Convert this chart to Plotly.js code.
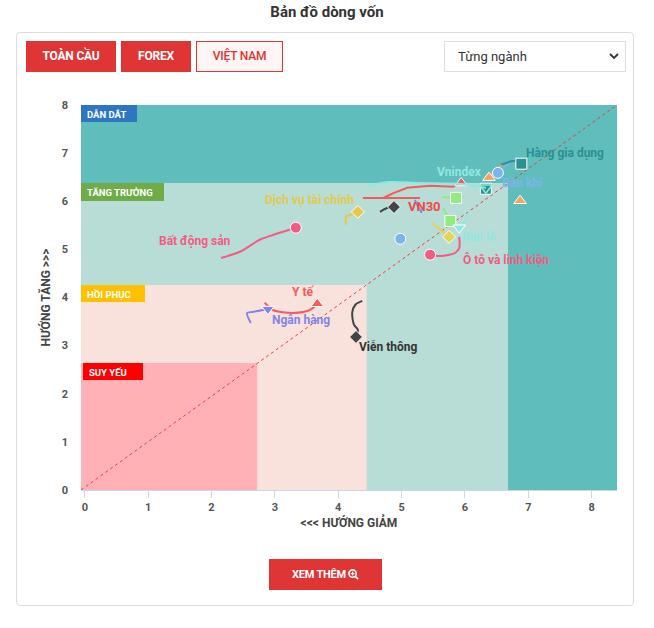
<!DOCTYPE html>
<html>
<head>
<meta charset="utf-8">
<script src="https://cdn.plot.ly/plotly-3.0.1.min.js"></script>
<style>
  body{margin:0;width:654px;height:628px;background:#fff;font-family:Roboto,"Noto Sans",Arial,sans-serif;position:relative;overflow:hidden}
  #title{position:absolute;top:3px;left:0;width:654px;text-align:center;font-weight:700;font-size:15px;line-height:18px;color:#333}
  #card{position:absolute;left:16px;top:32px;width:618px;height:574px;border:1px solid #dcdcdc;border-radius:4px;box-sizing:border-box}
  .btn{position:absolute;top:41px;height:31px;line-height:31px;text-align:center;font-weight:700;font-size:12px;color:#fff;background:#e03535;box-sizing:border-box;letter-spacing:-0.2px}
  #b1{left:26px;width:90px}
  #b2{left:121px;width:70px}
  #b3{left:196px;width:87px;background:#fdf6f4;border:1px solid #e03535;color:#e03535;font-weight:500;line-height:29px}
  #sel{position:absolute;left:444px;top:41px;width:182px;height:31px;border:1px solid #dedede;box-sizing:border-box;font-size:13px;color:#333;line-height:29px;padding-left:13px}
  #sel svg{position:absolute;right:6px;top:10px}
  #more{position:absolute;left:269px;top:559px;width:113px;height:31px;background:#e03535;color:#fff;font-weight:700;font-size:11px;line-height:31px;text-align:center;letter-spacing:-0.2px}
  #more svg{vertical-align:-2px;margin-left:2px}
  #chart{position:absolute;left:16px;top:90px;width:620px;height:455px}
</style>
</head>
<body>
<div id="title">Bản đồ dòng vốn</div>
<div id="card"></div>
<div class="btn" id="b1">TOÀN CẦU</div>
<div class="btn" id="b2">FOREX</div>
<div class="btn" id="b3">VIỆT NAM</div>
<div id="sel">Từng ngành<svg width="10" height="8" viewBox="0 0 10 8"><polyline points="1,2 5,6 9,2" fill="none" stroke="#333" stroke-width="1.8"/></svg></div>
<div id="chart"></div>
<div id="more">XEM THÊM<svg width="11" height="11" viewBox="0 0 12 12"><circle cx="5" cy="5" r="4" fill="none" stroke="#fff" stroke-width="1.8"/><line x1="8" y1="8" x2="11" y2="11" stroke="#fff" stroke-width="2"/><line x1="3" y1="5" x2="7" y2="5" stroke="#fff" stroke-width="1.4"/><line x1="5" y1="3" x2="5" y2="7" stroke="#fff" stroke-width="1.4"/></svg></div>
<script>
// ---- data ----
const tickVals = [0,1,2,3,4,5,6,7,8];
const xRange = [-0.06, 8.4];
const yRange = [0, 8];
const batDongSanX = [2.15,2.45,2.76,2.97,3.33], batDongSanY = [4.82,4.95,5.20,5.30,5.45];
const yTeX = [2.84,2.97,3.29,3.55,3.67], yTeY = [3.89,3.74,3.68,3.74,3.87];
const nganHangX = [2.62,2.56,2.65,2.89], nganHangY = [3.47,3.68,3.70,3.76];
const vienThongX = [4.38,4.27,4.22,4.25,4.31,4.28], vienThongY = [3.93,3.85,3.68,3.43,3.33,3.18];
const dichVuTCX = [4.12,4.12,4.23,4.31], dichVuTCY = [5.51,5.68,5.74,5.78];
const xamX = [4.66,4.77,4.88], xamY = [5.78,5.86,5.88];
const xanhDuongX = [4.98], xanhDuongY = [5.22];
const otoX = [5.91,5.91,5.85,5.61,5.45], otoY = [5.26,5.03,4.93,4.86,4.89];
const vangX = [5.48,5.61,5.75], vangY = [5.55,5.41,5.26];
const xanhLa1X = [5.66,5.70,5.77], xanhLa1Y = [5.86,5.74,5.59];
const xanhLa2X = [5.64,5.86], xanhLa2Y = [6.09,6.07];
const banLeX = [6.07,6.03,5.96,5.91], banLeY = [5.82,5.65,5.51,5.45];
const timX = [5.21,5.26,5.32], timY = [6.03,5.89,5.76];
const vn30X = [5.29,4.39,4.71,4.87,5.09,5.45,5.81,5.94], vn30Y = [6.07,6.07,6.07,6.17,6.28,6.32,6.30,6.38];
const tealVuongX = [6.33], tealVuongY = [6.26];
const vnindexX = [4.47,4.79,5.29,5.94,6.33], vnindexY = [6.32,6.40,6.38,6.36,6.28];
const cam1X = [6.59,6.48,6.38], cam1Y = [6.76,6.63,6.49];
const dauKhiX = [6.82,6.67,6.52], dauKhiY = [6.90,6.76,6.59];
const hangGiaDungX = [6.57,6.79,6.89], hangGiaDungY = [6.76,6.84,6.78];
const cam2X = [6.87], cam2Y = [6.01];
// zone limits (x, y)
const zoneTangTruong = [6.68, 6.38];
const zoneHoiPhuc = [4.45, 4.26];
const zoneSuyYeu = [2.72, 2.64];

// ---- options ----
const series = [
  {name:'Bất động sản', x:batDongSanX, y:batDongSanY, color:'#f15c80', symbol:'circle', label:true, dx:-101, dy:-13},
  {name:'Y tế', x:yTeX, y:yTeY, color:'#f45b5b', symbol:'triangle-up', label:true, dx:-14, dy:12},
  {name:'Ngân hàng', x:nganHangX, y:nganHangY, color:'#8085e9', symbol:'triangle-down', label:true, dx:33, dy:-11},
  {name:'Viễn thông', x:vienThongX, y:vienThongY, color:'#434348', symbol:'diamond', label:true, dx:32, dy:-10, lc:'#333'},
  {name:'Dịch vụ tài chính', x:dichVuTCX, y:dichVuTCY, color:'#e4c94a', symbol:'diamond', label:true, dx:-48, dy:12, shape:'linear'},
  {name:'', x:xamX, y:xamY, color:'#434348', symbol:'diamond'},
  {name:'', x:xanhDuongX, y:xanhDuongY, color:'#7cb5ec', symbol:'circle'},
  {name:'Ô tô và linh kiện', x:otoX, y:otoY, color:'#f15c80', symbol:'circle', label:true, dx:76, dy:-5},
  {name:'', x:vangX, y:vangY, color:'#e4d354', symbol:'diamond'},
  {name:'', x:xanhLa1X, y:xanhLa1Y, color:'#90ed7d', symbol:'square'},
  {name:'', x:xanhLa2X, y:xanhLa2Y, color:'#90ed7d', symbol:'square'},
  {name:'Bán lẻ', x:banLeX, y:banLeY, color:'#91e8e1', symbol:'triangle-down', label:true, dx:20, dy:-9},
  {name:'', x:timX, y:timY, color:'#8085e9', symbol:null},
  {name:'VN30', x:vn30X, y:vn30Y, color:'#f45b5b', symbol:'triangle-up', label:true, dx:-37, dy:-24, shape:'linear', fs:13, lc:'#ee4a4a'},
  {name:'', x:tealVuongX, y:tealVuongY, color:'#2b908f', symbol:'square'},
  {name:'Vnindex', x:vnindexX, y:vnindexY, color:'#91e8e1', symbol:'triangle-down-open', label:true, dx:-26, dy:16},
  {name:'', x:cam1X, y:cam1Y, color:'#f7a35c', symbol:'triangle-up'},
  {name:'Dầu khí', x:dauKhiX, y:dauKhiY, color:'#7cb5ec', symbol:'circle', label:true, dx:25, dy:-10},
  {name:'Hàng gia dụng', x:hangGiaDungX, y:hangGiaDungY, color:'#2b908f', symbol:'square', label:true, dx:44, dy:11},
  {name:'', x:cam2X, y:cam2Y, color:'#f7a35c', symbol:'triangle-up'}
];

const traces = [];
const annotations = [];
series.forEach(s => {
  const n = s.x.length;
  if (n > 1) {
    traces.push({x:s.x, y:s.y, mode:'lines', hoverinfo:'skip', showlegend:false,
      line:{color:s.color, width:2, shape:s.shape||'spline', smoothing:0.8}});
  }
  if (s.symbol) {
    const open = s.symbol.indexOf('open') >= 0;
    traces.push({x:[s.x[n-1]], y:[s.y[n-1]], mode:'markers', name:s.name, showlegend:false,
      marker:{symbol:s.symbol, size: s.symbol.indexOf('diamond')>=0 ? 10 : 11, color:s.color,
              line:{color: open ? s.color : '#ffffff', width: open ? 1.6 : 1}}});
  }
  if (s.label) {
    annotations.push({x:s.x[n-1], y:s.y[n-1], xref:'x', yref:'y', text:s.name, showarrow:false,
      xanchor:'center', yanchor:'middle', xshift:s.dx, yshift:s.dy,
      font:{family:'Roboto, Arial, sans-serif', size:s.fs||12, weight:'bold', color:s.lc||s.color}});
  }
});

// zone label boxes
const zoneLabels = [
  {text:'DẪN DẮT', y:yRange[1], w:56, h:17, c:'#2e75c2', sx:0},
  {text:'TĂNG TRƯỞNG', y:zoneTangTruong[1], w:83, h:18, c:'#6fab47', sx:0},
  {text:'HỒI PHỤC', y:zoneHoiPhuc[1], w:64, h:17, c:'#ffc000', sx:0},
  {text:'SUY YẾU', y:zoneSuyYeu[1], w:60, h:17, c:'#ff0000', sx:2}
];

const shapes = [
  {type:'rect', layer:'below', xref:'x', yref:'y', x0:xRange[0], x1:xRange[1], y0:yRange[0], y1:yRange[1], fillcolor:'#5fbdbb', line:{width:0}},
  {type:'rect', layer:'below', xref:'x', yref:'y', x0:xRange[0], x1:zoneTangTruong[0], y0:0, y1:zoneTangTruong[1], fillcolor:'#b8dcd6', line:{width:0}},
  {type:'rect', layer:'below', xref:'x', yref:'y', x0:xRange[0], x1:zoneHoiPhuc[0], y0:0, y1:zoneHoiPhuc[1], fillcolor:'#f9e2db', line:{width:0}},
  {type:'rect', layer:'below', xref:'x', yref:'y', x0:xRange[0], x1:zoneSuyYeu[0], y0:0, y1:zoneSuyYeu[1], fillcolor:'#ffb1b6', line:{width:0}},
  {type:'line', layer:'below', xref:'x', yref:'y', x0:xRange[0], y0:yRange[0], x1:xRange[1], y1:yRange[1], line:{color:'#ee3b3b', width:1, dash:'dot'}}
];
zoneLabels.forEach(z => {
  shapes.push({type:'rect', layer:'below', xref:'x', yref:'y', xsizemode:'pixel', ysizemode:'pixel',
    xanchor:xRange[0], yanchor:z.y, x0:z.sx, x1:z.sx+z.w, y0:-z.h, y1:0, fillcolor:z.c, line:{width:0}});
  annotations.push({xref:'x', yref:'y', x:xRange[0], y:z.y, xanchor:'left', yanchor:'top', xshift:z.sx+4, yshift:-2,
    text:z.text, showarrow:false, font:{family:'Roboto, Arial, sans-serif', size:9.5, weight:'bold', color:'#ffffff'}});
});

const layout = {
  width:620, height:455,
  margin:{l:65, r:19, t:15, b:55},
  paper_bgcolor:'rgba(0,0,0,0)', plot_bgcolor:'rgba(0,0,0,0)',
  showlegend:false,
  font:{family:'Roboto, Arial, sans-serif'},
  xaxis:{range:xRange, tickvals:tickVals, showgrid:false, zeroline:false,
    showline:true, linecolor:'#ccd6eb', linewidth:1, ticks:'outside', ticklen:7, tickcolor:'#ccd6eb',
    tickfont:{size:11, weight:'bold', color:'#555'},
    title:{text:'<<< HƯỚNG GIẢM', standoff:4, font:{size:12, weight:'bold', color:'#444'}}},
  yaxis:{range:yRange, tickvals:tickVals, showgrid:false, zeroline:false, showline:false, ticks:'',
    ticklabelstandoff:12, tickfont:{size:11, weight:'bold', color:'#555'},
    title:{text:'HƯỚNG TĂNG >>>', standoff:8, font:{size:12, weight:'bold', color:'#444'}}},
  shapes:shapes,
  annotations:annotations
};

Plotly.newPlot('chart', traces, layout, {displayModeBar:false, staticPlot:true});
</script>
</body>
</html>
